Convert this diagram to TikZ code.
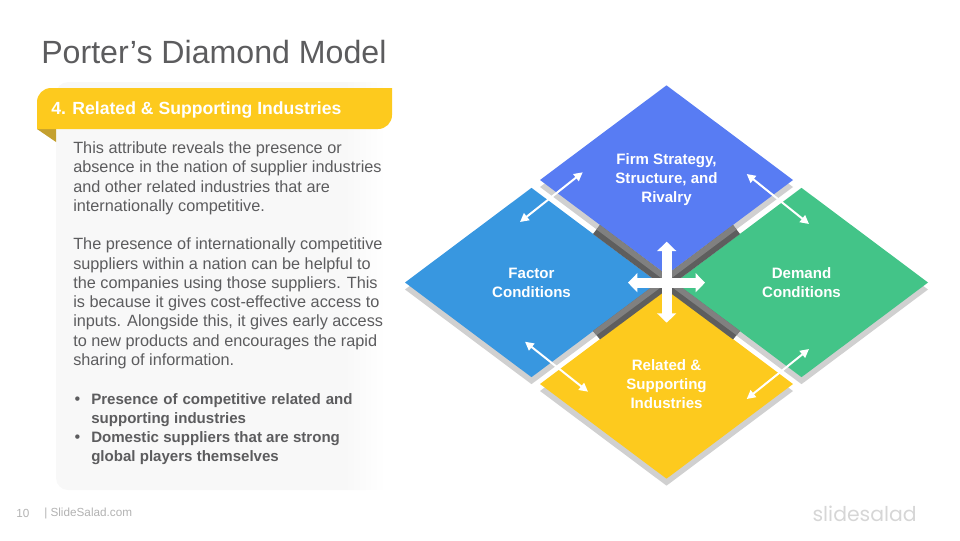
\documentclass[tikz,border=0pt]{standalone}
\usepackage{fontspec}
\setmainfont{Liberation Sans}
\newfontfamily\logofont{Poppins}
\usetikzlibrary{arrows.meta,shapes.geometric,shadows}
\definecolor{firmblue}{HTML}{587CF3}
\definecolor{factorblue}{HTML}{3897E0}
\definecolor{demandgreen}{HTML}{43C488}
\definecolor{relatedyellow}{HTML}{FDCA1E}
\definecolor{foldgold}{HTML}{C4A02F}
\definecolor{bodygray}{HTML}{5C5C5E}
\definecolor{lightshadow}{HTML}{D0D0D0}
\definecolor{bandmid}{HTML}{808080}
\definecolor{banddark}{HTML}{5E5E5E}
\definecolor{panelgray}{HTML}{F8F8F8}
\pgfdeclarehorizontalshading{panelfade}{100bp}{color(0bp)=(panelgray); color(25bp)=(panelgray); color(68bp)=(panelgray); color(74bp)=(white); color(100bp)=(white)}
\newcommand{\keyfont}{\fontsize{11.3}{14.45}\selectfont\bfseries}
\tikzset{
  attrbox/.style={shape=diamond, inner sep=0pt, outer sep=0pt, minimum width=189.75pt, minimum height=142pt,
    align=center, text=white, font=\fontsize{11.3}{14.3}\selectfont\bfseries,
    copy shadow={shadow xshift=0pt, shadow yshift=-5.25pt, fill=lightshadow, draw=none}},
  linkarrow/.style={{Triangle[width=6.5pt,length=6.5pt]}-{Triangle[width=6.5pt,length=6.5pt]}, white, line width=1.5pt},
  crossarrow/.style={{Triangle[width=14pt,length=7pt]}-{Triangle[width=14pt,length=7pt]}, white, line width=7.5pt}
}
\begin{document}
\begin{tikzpicture}[x=0.75pt, y=-0.75pt]
  \useasboundingbox (0,0) rectangle (960,540);
  % left panel
  \shade[shading=panelfade, rounded corners=9pt] (56,82) rectangle (392,490);
  \fill[foldgold] (37,129) -- (56,129) -- (56,142) -- cycle;
  \fill[relatedyellow] (37,129) [rounded corners=10.5pt] -- (37,88) [sharp corners] -- (392,88) [rounded corners=10.5pt] -- (392,129) [sharp corners] -- cycle;
  \node[anchor=west, inner sep=0pt, text=bodygray, font=\fontsize{24.1}{28}\selectfont] (title) at (41,52) {Porter’s Diamond Model};
  \node[anchor=west, inner sep=0pt, text=white, font=\fontsize{13.2}{16}\selectfont\bfseries] (header) at (51,109.5) {4. Related \& Supporting Industries};
  \node[anchor=north west, inner sep=0pt, align=left, text=bodygray, font=\fontsize{12.2}{14.45}\selectfont] (bodytext) at (73,141.5) {%
    This attribute reveals the presence or\\
    absence in the nation of supplier industries\\
    and other related industries that are\\
    internationally competitive.\\[14.45pt]
    The presence of internationally competitive\\
    suppliers within a nation can be helpful to\\
    the companies using those suppliers.  This\\
    is because it gives cost-effective access to\\
    inputs. Alongside this, it gives early access\\
    to new products and encourages the rapid\\
    sharing of information.\\[14.45pt]
    \makebox[13.5pt][l]{\hspace{1pt}•}\makebox[196pt][s]{\keyfont Presence of competitive related and}\\
    \hspace*{13.5pt}{\keyfont supporting industries}\\
    \makebox[13.5pt][l]{\hspace{1pt}•}{\keyfont Domestic suppliers that are strong}\\
    \hspace*{13.5pt}{\keyfont global players themselves}};
  % footer
  \node[anchor=west, inner sep=0pt, text=black!30, font=\fontsize{8.8}{11}\selectfont] (pagenum) at (16,513) {10};
  \node[anchor=west, inner sep=0pt, text=black!30, font=\fontsize{8.8}{11}\selectfont] (site) at (44,513) {| SlideSalad.com};
  \node[anchor=east, inner sep=0pt, text=black!16, font=\logofont\fontsize{15.3}{20}\selectfont] (logo) at (917,514) {slidesalad};
  % the four attributes
  \node[attrbox, fill=firmblue] (firm) at (666.5,180) {Firm Strategy,\\Structure, and\\Rivalry};
  \node[attrbox, fill=factorblue] (factor) at (531.5,282.5) {Factor\\Conditions};
  \node[attrbox, fill=demandgreen] (demand) at (801.5,282.5) {Demand\\Conditions};
  \node[attrbox, fill=relatedyellow] (related) at (666.5,384) {Related \&\\Supporting\\Industries};
  % dark bands between the diamonds
  \fill[banddark] (600,225) -- (593,234) -- (658,282.5) -- (666.5,290) -- (675,282.5) -- (740,234) -- (733,225) -- (666.5,275) -- cycle;
  \fill[banddark] (593,331) -- (600,339.4) -- (666.5,290) -- (733,339.4) -- (740,331) -- (675,282.5) -- (658,282.5) -- cycle;
  \fill[bandmid] (600,225) -- (596.5,229.5) -- (662.25,278.75) -- (666.5,275) -- cycle;
  \fill[bandmid] (733,225) -- (736.5,229.5) -- (670.75,278.75) -- (666.5,275) -- cycle;
  \fill[bandmid] (593,331) -- (596.5,335.2) -- (662.25,286.25) -- (658,282.5) -- cycle;
  \fill[bandmid] (740,331) -- (736.5,335.2) -- (670.75,286.25) -- (675,282.5) -- cycle;
  % arrows
  \coordinate (tl1) at (582.7,172.3);
  \coordinate (tl2) at (520,222);
  \coordinate (tr1) at (746.7,174);
  \coordinate (tr2) at (809,224);
  \coordinate (bl1) at (525,341.7);
  \coordinate (bl2) at (588,391.7);
  \coordinate (br1) at (809,349);
  \coordinate (br2) at (746.7,399);
  \coordinate (crosstop) at (666.7,241.7);
  \coordinate (crossbot) at (666.7,322.7);
  \coordinate (crossleft) at (628,282.7);
  \coordinate (crossright) at (705,282.7);
  \foreach \a/\b in {tl1/tl2,tr1/tr2,bl1/bl2,br1/br2}
    \draw[linkarrow] (\a) -- (\b);
  \draw[crossarrow] (crosstop) -- (crossbot);
  \draw[crossarrow] (crossleft) -- (crossright);
\end{tikzpicture}
\end{document}
